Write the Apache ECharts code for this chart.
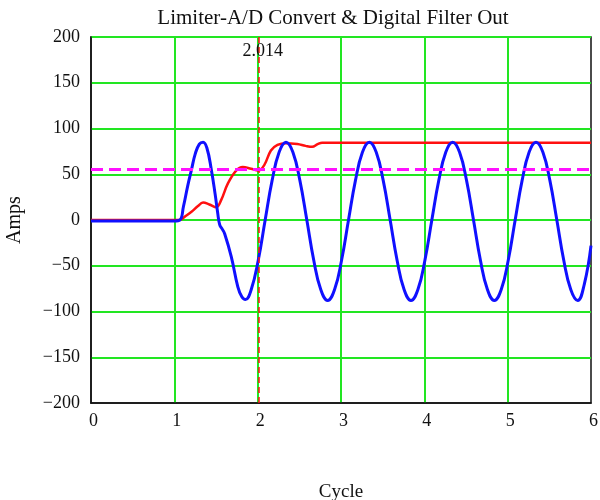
<!DOCTYPE html>
<html>
<head>
<meta charset="utf-8">
<script src="https://cdn.jsdelivr.net/npm/echarts@6/dist/echarts.min.js"></script>
<style>html,body{margin:0;padding:0;background:#fff}#c{width:600px;height:500px}</style>
</head>
<body>
<div id="c"></div>
<script>
// ---- data ----
var titleText = 'Limiter-A/D Convert & Digital Filter Out';
var xName = 'Cycle';
var yName = 'Amps';
var xTicks = [0, 1, 2, 3, 4, 5, 6];
var yTicks = [-200, -150, -100, -50, 0, 50, 100, 150, 200];

var blueCycle = [0, 0.5, 1.0, 1.067, 1.11, 1.16, 1.206, 1.25, 1.30, 1.345, 1.39, 1.444, 1.49, 1.52, 1.544, 1.575, 1.604, 1.683, 1.762, 1.81, 1.853, 1.923, 2.007,
  2.09, 2.173, 2.257, 2.34, 2.423, 2.507, 2.59, 2.673, 2.757, 2.84, 2.923, 3.007,
  3.09, 3.173, 3.257, 3.34, 3.423, 3.507, 3.59, 3.673, 3.757, 3.84, 3.923, 4.007,
  4.09, 4.173, 4.257, 4.34, 4.423, 4.507, 4.59, 4.673, 4.757, 4.84, 4.923, 5.007,
  5.09, 5.173, 5.257, 5.34, 5.423, 5.507, 5.59, 5.673, 5.757, 5.84, 5.92, 6.0];
var blueAmps = [-1, -1, -1, 0, 15, 37, 55, 72, 83, 85, 79, 55, 28, 8, -5, -10, -15, -40, -73, -84, -87, -76, -44,
  0, 43, 74, 85, 74, 43, 0, -44, -76, -88, -76, -44,
  0, 43, 74, 85, 74, 43, 0, -44, -76, -88, -76, -44,
  0, 43, 74, 85, 74, 43, 0, -44, -76, -88, -76, -44,
  0, 43, 74, 85, 74, 43, 0, -44, -76, -88, -70, -28];

var redCycle = [0, 0.5, 1.0, 1.06, 1.13, 1.206, 1.28, 1.345, 1.42, 1.504, 1.563, 1.643, 1.742, 1.821, 1.92, 2.007, 2.079, 2.159, 2.238, 2.337, 2.476, 2.575, 2.654, 2.72, 2.774, 3.0, 4.0, 5.0, 6.0];
var redAmps = [0, 0, 0, 0, 4, 9, 15, 19, 17, 14, 22, 40, 54, 58, 56, 54, 60, 76, 82, 84, 83, 81, 80, 83, 84.5, 84.5, 84.5, 84.5, 84.5];

var limitLevel = 55;
var markerCycle = 2.014;
var markerLabel = '2.014';
var markerLabelAmps = 184;

function zip(xs, ys) { return xs.map(function (x, i) { return [x, ys[i]]; }); }
function minus(v) { return String(v).replace('-', '\u2212'); }

var serif = "'Liberation Serif', 'Times New Roman', serif";
var green = '#22e622';

var chart = echarts.init(document.getElementById('c'), null, { renderer: 'canvas' });
chart.setOption({
  animation: false,
  backgroundColor: '#fff',
  title: {
    text: titleText, left: 328, top: 3, textAlign: 'center',
    textStyle: { fontFamily: serif, fontSize: 21, fontWeight: 'normal', color: '#111' }
  },
  grid: { left: 91, right: 9, top: 37, bottom: 97, containLabel: false, outerBoundsMode: 'none', show: true, borderColor: '#111', borderWidth: 1.5, backgroundColor: 'transparent' },
  xAxis: {
    type: 'value', min: xTicks[0], max: xTicks[xTicks.length - 1], interval: 1,
    name: xName, nameLocation: 'middle', nameGap: 80,
    nameTextStyle: { fontFamily: serif, fontSize: 19, color: '#111' },
    axisLine: { show: true, onZero: false, lineStyle: { color: '#111', width: 1.5 } },
    axisTick: { show: false },
    axisLabel: { fontFamily: serif, fontSize: 18, color: '#111', margin: 9, padding: [0, 0, 0, 5], formatter: minus },
    splitLine: { show: true, showMinLine: false, showMaxLine: false, lineStyle: { color: green, width: 2 } }
  },
  yAxis: {
    type: 'value', min: yTicks[0], max: yTicks[yTicks.length - 1], interval: 50,
    name: yName, nameLocation: 'middle', nameGap: 66, nameRotate: 90,
    nameTextStyle: { fontFamily: serif, fontSize: 20, color: '#111' },
    axisLine: { show: true, onZero: false, lineStyle: { color: '#111', width: 1.5 } },
    axisTick: { show: false },
    axisLabel: { fontFamily: serif, fontSize: 18, color: '#111', margin: 11, formatter: minus },
    splitLine: { show: true, showMinLine: false, lineStyle: { color: green, width: 2 } }
  },
  series: [
    {
      type: 'line', data: zip(redCycle, redAmps), smooth: 0.4, showSymbol: false, z: 3,
      lineStyle: { color: '#ff1010', width: 2.5 },
      markLine: {
        silent: true, symbol: 'none', label: { show: false },
        lineStyle: { color: '#ff1010', width: 1.5, type: [6, 4] },
        data: [{ xAxis: markerCycle }]
      },
      markPoint: {
        symbol: 'circle', symbolSize: 1, itemStyle: { color: 'rgba(0,0,0,0)' },
        label: { show: true, position: 'inside', offset: [4, 0], formatter: markerLabel, fontFamily: serif, fontSize: 18, color: '#111' },
        data: [{ coord: [markerCycle, markerLabelAmps] }]
      }
    },
    {
      type: 'line', data: zip(blueCycle, blueAmps), smooth: 0.45, showSymbol: false, z: 4,
      lineStyle: { color: '#1010ff', width: 3 }
    },
    {
      type: 'line', data: [], z: 5,
      markLine: {
        silent: true, symbol: 'none', label: { show: false },
        lineStyle: { color: '#ff10ff', width: 3, type: [12, 6] },
        data: [{ yAxis: limitLevel }]
      }
    }
  ]
});
</script>
</body>
</html>
